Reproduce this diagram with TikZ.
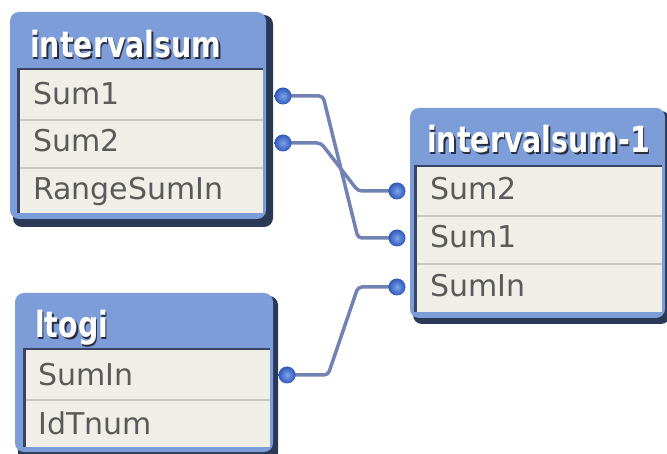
\documentclass[tikz,border=0pt]{standalone}
\usepackage{graphicx}
\usepackage{fontspec}
\setmainfont{DejaVu Sans}
\newfontfamily\titlefont{DejaVu Sans}
\definecolor{hdrblue}{HTML}{7D9DD9}
\definecolor{shadowc}{HTML}{2B3856}
\definecolor{bodyc}{HTML}{EFEFE8}
\definecolor{sepc}{HTML}{C9C9C2}
\definecolor{innerc}{HTML}{3A4460}
\definecolor{connc}{HTML}{7282B2}
\definecolor{textc}{HTML}{5A5A5A}
\definecolor{ttlshadow}{HTML}{2A2F40}
\definecolor{dotin}{HTML}{7FA4EE}
\definecolor{dotout}{HTML}{2F57B8}
\newcommand\ttlsq[1]{\scalebox{0.79}[1]{#1}}
\tikzset{
  boxshadow/.style={fill=shadowc, rounded corners=9pt},
  boxblue/.style={fill=hdrblue, rounded corners=9pt},
  boxbody/.style={fill=bodyc},
  innerline/.style={draw=innerc, line width=2.5pt},
  sepline/.style={draw=sepc, line width=2pt},
  rowtext/.style={anchor=base west, inner sep=0pt, text=textc, font=\fontsize{30}{36}\selectfont},
  titletext/.style={anchor=base west, inner sep=0pt, text=white, font=\titlefont\bfseries\fontsize{36}{42}\selectfont},
  titleshadow/.style={titletext, text=ttlshadow},
  conn/.style={draw=connc, line width=3.5pt, rounded corners=4pt},
  dot/.style={circle, minimum size=17pt, inner sep=0pt, inner color=dotin, outer color=dotout},
}
\begin{document}
\begin{tikzpicture}[x=1pt,y=-1pt]
\useasboundingbox (0,0) rectangle (667,454);

% ---- table 1: intervalsum
\fill[boxshadow] (13,15) rectangle (273,227);
\fill[boxblue] (10,12) rectangle (266,219);
\fill[boxbody] (18,68) rectangle (263,213);
\draw[innerline] (18.5,213) -- (18.5,69) -- (263,69);
\draw[sepline] (20,120) -- (263,120);
\draw[sepline] (20,168) -- (263,168);
\node[titleshadow] (t1ts) at (31.5,59.5) {\ttlsq{intervalsum}};
\node[titletext] (t1t) at (30,58) {\ttlsq{intervalsum}};
\node[rowtext] (t1r1) at (33,105) {Sum1};
\node[rowtext] (t1r2) at (33,152) {Sum2};
\node[rowtext] (t1r3) at (33,200) {RangeSumIn};

% ---- table 2: intervalsum-1
\fill[boxshadow] (413,111) rectangle (670,324);
\fill[boxblue] (410,108) rectangle (665,318);
\fill[boxbody] (415,165) rectangle (662,312);
\draw[innerline] (415.5,312) -- (415.5,166) -- (662,166);
\draw[sepline] (417,216) -- (662,216);
\draw[sepline] (417,264) -- (662,264);
\node[titleshadow] (t2ts) at (428.5,154.5) {\ttlsq{intervalsum-1}};
\node[titletext] (t2t) at (427,153) {\ttlsq{intervalsum-1}};
\node[rowtext] (t2r1) at (430,200) {Sum2};
\node[rowtext] (t2r2) at (430,248) {Sum1};
\node[rowtext] (t2r3) at (430,297) {SumIn};

% ---- table 3: ltogi
\fill[boxshadow] (18,296) rectangle (278,462);
\fill[boxblue] (15,293) rectangle (273,452);
\fill[boxbody] (24,348) rectangle (270,447);
\draw[innerline] (24.5,447) -- (24.5,349) -- (270,349);
\draw[sepline] (26,400) -- (270,400);
\node[titleshadow] (t3ts) at (36.5,339.5) {\ttlsq{ltogi}};
\node[titletext] (t3t) at (35,338) {\ttlsq{ltogi}};
\node[rowtext] (t3r1) at (38,386) {SumIn};
\node[rowtext] (t3r2) at (38,434) {IdTnum};

% ---- connector end points
\coordinate (p11) at (283,96);
\coordinate (p12) at (283,143);
\coordinate (p21) at (397,191);
\coordinate (p22) at (397,238);
\coordinate (p23) at (397,287);
\coordinate (p31) at (287,375);

% ---- connectors
\draw[conn] (p11) -- (323,96) -- (358,238) -- (p22);
\draw[conn] (p12) -- (321,143) -- (358,191) -- (p21);
\draw[conn] (p31) -- (328,375) -- (358,287) -- (p23);

% ---- dots
\node[dot] (d11) at (p11) {};
\node[dot] (d12) at (p12) {};
\node[dot] (d21) at (p21) {};
\node[dot] (d22) at (p22) {};
\node[dot] (d23) at (p23) {};
\node[dot] (d31) at (p31) {};
\end{tikzpicture}
\end{document}
